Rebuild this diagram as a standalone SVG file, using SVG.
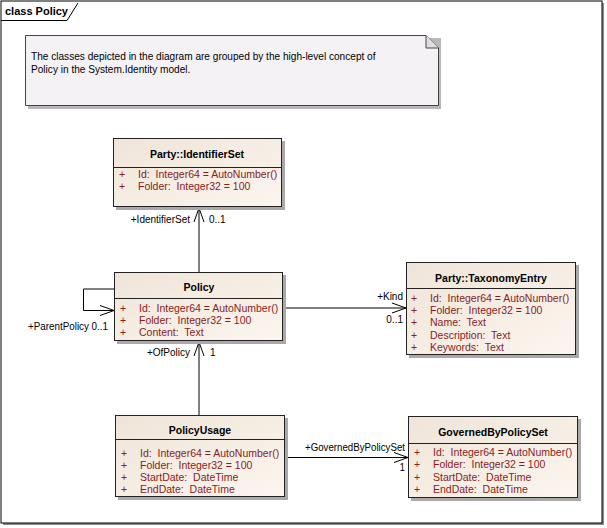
<svg xmlns="http://www.w3.org/2000/svg" width="607" height="528" viewBox="0 0 607 528">
<defs>
<linearGradient id="boxfill" x1="0" y1="0" x2="1" y2="1">
<stop offset="0" stop-color="#efe4d8"/>
<stop offset="1" stop-color="#fcf6ef"/>
</linearGradient>
<marker id="open" viewBox="0 0 16 12" refX="15" refY="6" markerWidth="16" markerHeight="12" markerUnits="userSpaceOnUse" orient="auto">
<path d="M1,1 L15,6 L1,11" fill="none" stroke="#000" stroke-width="1"/>
</marker>
<style>
.t{font-family:"Liberation Sans",Arial,sans-serif;font-size:10px;fill:#000}
.b{font-family:"Liberation Sans",Arial,sans-serif;font-size:10.5px;font-weight:bold;fill:#000}
.a{font-family:"Liberation Sans",Arial,sans-serif;font-size:10.5px;fill:#8a1c1c;white-space:pre}
.box{fill:url(#boxfill);stroke:#222;stroke-width:1}
.sh{fill:#a9a9a9}
.div{stroke:#222;stroke-width:1}
.c{fill:none;stroke:#000;stroke-width:1}
</style>
</defs>
<rect x="0" y="0" width="607" height="528" fill="#fff"/>
<g id="frame">
<rect x="3" y="3" width="601" height="522" fill="#8c8c8c"/>
<rect x="1" y="1" width="601" height="522" fill="#fff" stroke="#000" stroke-width="1"/>
<path d="M1,20.5 H67 L78,3" fill="none" stroke="#000"/>
<text class="b" x="5" y="15" style="font-size:11px">class Policy</text>
</g>
<g id="note">
<path d="M28,38 H441 V109 H28 Z" fill="#b8b8b8"/>
<path d="M25.5,35.5 H426 L438.5,48 V105.5 H25.5 Z" fill="#f5f2f6" stroke="#444"/>
<path d="M426,35.5 V48 H438.5" fill="#e0dde2" stroke="#444"/>
<text class="t" x="31" y="60" style="font-size:10.1px">The classes depicted in the diagram are grouped by the high-level concept of</text>
<text class="t" x="31" y="73" style="font-size:10.1px">Policy in the System.Identity model.</text>
</g>
<g id="connectors">
<path class="c" d="M199,272 V208" marker-end="url(#open)"/>
<path class="c" d="M114,289 H83.5 V310.5 H114" marker-end="url(#open)"/>
<path class="c" d="M283,308 H406" marker-end="url(#open)"/>
<path class="c" d="M199,415 V342" marker-end="url(#open)"/>
<path class="c" d="M285,457.5 H408" marker-end="url(#open)"/>
<text class="t" x="190" y="223" text-anchor="end">+IdentifierSet</text>
<text class="t" x="209" y="223">0..1</text>
<text class="t" x="28" y="330" textLength="80" lengthAdjust="spacingAndGlyphs">+ParentPolicy 0..1</text>
<text class="t" x="403" y="300" text-anchor="end">+Kind</text>
<text class="t" x="403" y="323" text-anchor="end">0..1</text>
<text class="t" x="190" y="356" text-anchor="end">+OfPolicy</text>
<text class="t" x="210" y="356">1</text>
<text class="t" x="305" y="451" textLength="100" lengthAdjust="spacingAndGlyphs">+GovernedByPolicySet</text>
<text class="t" x="405" y="471" text-anchor="end">1</text>
</g>
<g id="IdentifierSet">
<rect class="sh" x="116" y="141" width="169" height="69"/>
<rect class="box" x="113.5" y="138.5" width="168" height="68"/>
<line class="div" x1="113.5" y1="167.5" x2="281.5" y2="167.5"/>
<text class="b" x="197" y="158" text-anchor="middle">Party::IdentifierSet</text>
<text class="a" x="119" y="178">+</text><text class="a" x="138" y="178">Id:  Integer64 = AutoNumber()</text>
<text class="a" x="119" y="190">+</text><text class="a" x="138" y="190">Folder:  Integer32 = 100</text>
</g>
<g id="Policy">
<rect class="sh" x="117" y="275" width="169" height="69"/>
<rect class="box" x="114.5" y="272.5" width="168" height="68"/>
<line class="div" x1="114.5" y1="298.5" x2="282.5" y2="298.5"/>
<text class="b" x="199" y="291" text-anchor="middle">Policy</text>
<text class="a" x="120" y="312">+</text><text class="a" x="139" y="312">Id:  Integer64 = AutoNumber()</text>
<text class="a" x="120" y="324">+</text><text class="a" x="139" y="324">Folder:  Integer32 = 100</text>
<text class="a" x="120" y="336">+</text><text class="a" x="139" y="336">Content:  Text</text>
</g>
<g id="TaxonomyEntry">
<rect class="sh" x="409" y="265" width="170" height="93"/>
<rect class="box" x="406.5" y="262.5" width="169" height="92"/>
<line class="div" x1="406.5" y1="288.5" x2="575.5" y2="288.5"/>
<text class="b" x="491" y="282" text-anchor="middle">Party::TaxonomyEntry</text>
<text class="a" x="411" y="302">+</text><text class="a" x="430" y="302">Id:  Integer64 = AutoNumber()</text>
<text class="a" x="411" y="314">+</text><text class="a" x="430" y="314">Folder:  Integer32 = 100</text>
<text class="a" x="411" y="326">+</text><text class="a" x="430" y="326">Name:  Text</text>
<text class="a" x="411" y="339">+</text><text class="a" x="430" y="339">Description:  Text</text>
<text class="a" x="411" y="351">+</text><text class="a" x="430" y="351">Keywords:  Text</text>
</g>
<g id="PolicyUsage">
<rect class="sh" x="118" y="418" width="170" height="82"/>
<rect class="box" x="115.5" y="415.5" width="169" height="81"/>
<line class="div" x1="115.5" y1="439.5" x2="284.5" y2="439.5"/>
<text class="b" x="200" y="434" text-anchor="middle">PolicyUsage</text>
<text class="a" x="121" y="457">+</text><text class="a" x="140" y="457">Id:  Integer64 = AutoNumber()</text>
<text class="a" x="121" y="469">+</text><text class="a" x="140" y="469">Folder:  Integer32 = 100</text>
<text class="a" x="121" y="481">+</text><text class="a" x="140" y="481">StartDate:  DateTime</text>
<text class="a" x="121" y="493">+</text><text class="a" x="140" y="493">EndDate:  DateTime</text>
</g>
<g id="GovernedByPolicySet">
<rect class="sh" x="411" y="419" width="170" height="82"/>
<rect class="box" x="408.5" y="416.5" width="169" height="81"/>
<line class="div" x1="408.5" y1="443.5" x2="577.5" y2="443.5"/>
<text class="b" x="493" y="436" text-anchor="middle">GovernedByPolicySet</text>
<text class="a" x="414" y="456">+</text><text class="a" x="433" y="456">Id:  Integer64 = AutoNumber()</text>
<text class="a" x="414" y="468">+</text><text class="a" x="433" y="468">Folder:  Integer32 = 100</text>
<text class="a" x="414" y="481">+</text><text class="a" x="433" y="481">StartDate:  DateTime</text>
<text class="a" x="414" y="493">+</text><text class="a" x="433" y="493">EndDate:  DateTime</text>
</g>
</svg>
